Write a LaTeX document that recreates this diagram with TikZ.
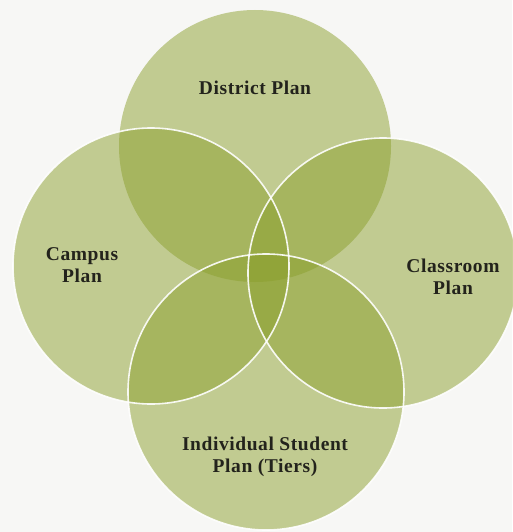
\documentclass[tikz,border=0pt]{standalone}
\usepackage{fontspec}
\setmainfont{Liberation Serif}
\newfontfamily\lblfont[LetterSpace=3]{Liberation Serif}
\definecolor{bgc}{RGB}{247,247,245}
\definecolor{olive}{RGB}{140,160,46}
\definecolor{ink}{RGB}{35,35,28}
\begin{document}
\begin{tikzpicture}[x=1pt,y=-1pt,
  venn/.style={fill=olive, fill opacity=0.5, draw=none},
  rim/.style={draw=white, line width=1.6pt, draw opacity=0.9},
  lbl/.style={font=\lblfont\bfseries\fontsize{19.5}{21.5}\selectfont, text=ink, align=center, inner sep=0pt}]
\fill[bgc] (0,0) rectangle (512,532);
\useasboundingbox (0,0) rectangle (512,532);
\coordinate (cT) at (255,146);
\coordinate (cL) at (151,266);
\coordinate (cR) at (383,273);
\coordinate (cB) at (266,392);
\path[venn] (cT) circle[radius=136pt];
\path[venn] (cL) circle[radius=138pt];
\path[venn] (cR) circle[radius=135pt];
\path[venn] (cB) circle[radius=138pt];
\path[rim] (cL) circle[radius=138pt];
\path[rim] (cR) circle[radius=135pt];
\path[rim] (cB) circle[radius=138pt];
\node[lbl] (tD) at (255,88) {District Plan};
\node[lbl] (tC) at (82,265) {Campus\\Plan};
\node[lbl] (tR) at (453,277) {Classroom\\Plan};
\node[lbl] (tI) at (265,457) {Individual Student\\Plan (Tiers)};
\end{tikzpicture}
\end{document}
